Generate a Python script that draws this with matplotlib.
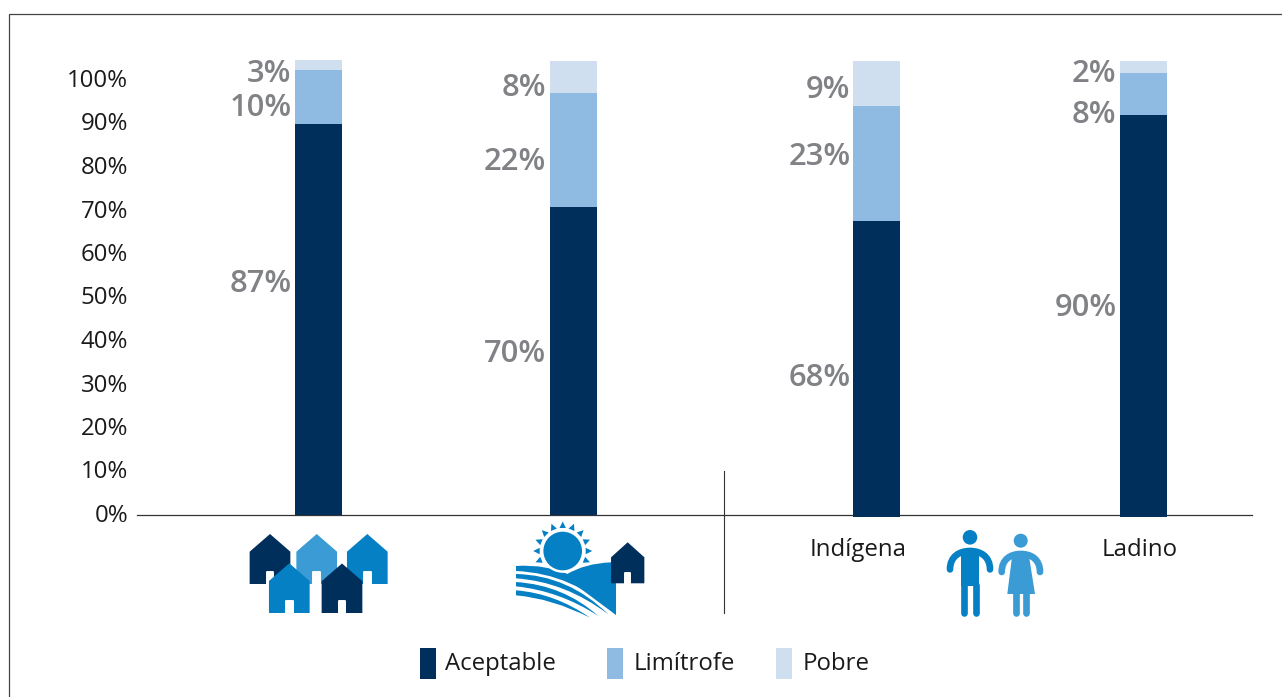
#!/usr/bin/env python3
# -*- coding: utf-8 -*-

import matplotlib
matplotlib.use("Agg")
import matplotlib.pyplot as plt
import numpy as np
from matplotlib.patches import Circle, PathPatch, Polygon, Rectangle
from matplotlib.path import Path
from matplotlib.transforms import ScaledTranslation

plt.rcParams["font.family"] = ["Open Sans", "DejaVu Sans"]

# drawn heights on the axis scale (the bars overshoot 100% in the original)
aceptable = [89.9, 70.8, 68.0, 92.4]
limitrofe = [12.4, 26.2, 26.4, 9.7]
pobre = [2.3, 7.4, 10.5, 2.8]
# printed labels
aceptable_txt = ["87%", "70%", "68%", "90%"]
limitrofe_txt = ["10%", "22%", "23%", "8%"]
pobre_txt = ["3%", "8%", "9%", "2%"]
y_ticks = [0, 10, 20, 30, 40, 50, 60, 70, 80, 90, 100]
y_labels = ["0%", "10%", "20%", "30%", "40%", "50%", "60%", "70%", "80%", "90%", "100%"]
legend_names = ["Aceptable", "Limítrofe", "Pobre"]

DARK = "#002F5C"
MID = "#8FBBE2"
LIGHT = "#CFDFF0"
GREY = "#808285"
TEXT = "#1A1A1A"
BLUE = "#0580C4"
SKY = "#3A9BD5"

W, H = 1282, 697
AX_L, AX_R, AX_Y, AX_TOP = 137, 1252, 515, 50
PX_PER_PCT = 4.35

# layout, in pixels of the figure
bar_x = [318.5, 573.5, 876.5, 1143.5]
bar_w = 47
bar_start = [0, 0, -0.46, -0.46]
label_right = [291.5, 546, 850.5, 1116.5]
aceptable_y = [284.5, 354.5, 377.5, 308.5]
limitrofe_y = [108.5, 161.5, 157, 115]
pobre_y = [74.5, 88.5, 90.5, 73.5]
legend_box_x = [420, 607, 776]
legend_text_x = [445, 634, 803]

fig = plt.figure(figsize=(W / 100, H / 100), dpi=100, facecolor="white")

# bars
ax = fig.add_axes([AX_L / W, 1 - AX_Y / H, (AX_R - AX_L) / W, (AX_Y - AX_TOP) / H])
ax.set_xlim(AX_L, AX_R)
ax.set_ylim(0, (AX_Y - AX_TOP) / PX_PER_PCT)
ax.patch.set_visible(False)

start = np.array(bar_start)
ac = np.array(aceptable)
li = np.array(limitrofe)
po = np.array(pobre)
ax.bar(bar_x, ac, bar_w, bottom=start, color=DARK, clip_on=False, zorder=3)
ax.bar(bar_x, li, bar_w, bottom=start + ac, color=MID, clip_on=False, zorder=3)
ax.bar(bar_x, po, bar_w, bottom=start + ac + li, color=LIGHT, clip_on=False, zorder=3)

ax.set_yticks(y_ticks)
ax.set_yticklabels(y_labels, fontsize=17.3, color=TEXT)
ax.set_xticks([])
ax.tick_params(axis="y", length=0, pad=6.4)
up = ScaledTranslation(0, 2 / 100, fig.dpi_scale_trans)
for lab in ax.get_yticklabels():
    lab.set_transform(lab.get_transform() + up)
for side in ["top", "right", "left"]:
    ax.spines[side].set_visible(False)
ax.spines["bottom"].set_color("#333333")
ax.spines["bottom"].set_linewidth(0.9)

# everything else sits on a pixel overlay
ov = fig.add_axes([0, 0, 1, 1])
ov.set_xlim(0, W)
ov.set_ylim(H, 0)
ov.axis("off")
ov.patch.set_visible(False)

ov.plot([9, 9, W], [H, 14, 14], color="#444444", lw=0.9, solid_joinstyle="miter")
ov.plot([724, 724], [471, 613], color="#333333", lw=0.8)

for i in range(4):
    for txts, ys in [(aceptable_txt, aceptable_y), (limitrofe_txt, limitrofe_y), (pobre_txt, pobre_y)]:
        ov.text(label_right[i], ys[i], txts[i], ha="right", va="center",
                fontsize=22.3, fontweight="semibold", color=GREY)

ov.text(858, 550, "Indígena", ha="center", va="center", fontsize=17.3, color=TEXT)
ov.text(1140, 550, "Ladino", ha="center", va="center", fontsize=17.3, color=TEXT)

for name, bx, tx, col in zip(legend_names, legend_box_x, legend_text_x, [DARK, MID, LIGHT]):
    ov.add_patch(Rectangle((bx, 648), 15.5, 31, color=col, lw=0))
    ov.text(tx, 664, name, ha="left", va="center", fontsize=17.3, color=TEXT)


def house(cx, top, bottom, width, color, z, shoulder=17.7, door_w=8.7, door_top=570.7):
    hw = width / 2
    ov.add_patch(Polygon([(cx, top), (cx + hw, top + shoulder), (cx + hw, bottom),
                          (cx - hw, bottom), (cx - hw, top + shoulder)],
                         closed=True, color=color, lw=0, zorder=z))
    # slightly rounded door
    ov.add_patch(Rectangle((cx - door_w / 2 + 1, door_top + 1), door_w - 2, bottom - door_top,
                           facecolor="white", edgecolor="white", lw=1.4, joinstyle="round", zorder=z))


# town icon
house(270, 534, 584, 40.7, DARK, 4)
house(316.7, 534, 584, 40.7, SKY, 4)
house(367.3, 534, 584, 40.7, BLUE, 4)
house(289.3, 563.3, 613, 40.7, BLUE, 5, door_top=599.5)
house(342, 563.5, 613, 40.7, DARK, 5, door_top=599.5)


# countryside icon, curves traced in crop coordinates (3x, origin 510,515)
def shape(points, codes, color, z=4):
    verts = [(510 + a / 3, 515 + b / 3) for a, b in points]
    ov.add_patch(PathPatch(Path(verts, codes), facecolor=color, edgecolor="none", lw=0, zorder=z))


def band(left_top, top_ctrl, tip, low_ctrl, left_low):
    shape([left_top, top_ctrl, tip, low_ctrl, left_low, left_top],
          [Path.MOVETO, Path.CURVE3, Path.CURVE3, Path.CURVE3, Path.CURVE3, Path.LINETO], BLUE)


band((18, 153), (205, 140), (318, 300), (190, 175), (18, 168))
band((18, 177), (175, 180), (295, 298), (165, 200), (18, 190))
band((18, 201), (160, 210), (265, 303), (150, 228), (18, 214))
band((18, 226), (135, 235), (240, 308), (125, 250), (18, 241))
shape([(170, 178), (225, 145), (303, 142), (318, 142), (318, 300), (170, 190), (170, 178)],
      [Path.MOVETO, Path.CURVE3, Path.CURVE3, Path.LINETO, Path.LINETO, Path.LINETO, Path.LINETO], BLUE)

sun_x, sun_y = 562.7, 551
ov.add_patch(Circle((sun_x, sun_y), 21.8, color="white", lw=0, zorder=5))
ov.add_patch(Circle((sun_x, sun_y), 19.3, color=BLUE, lw=0, zorder=5))
for ang in np.arange(-22.5, 203, 22.5):
    a = np.deg2rad(ang)
    ux, uy = np.cos(a), -np.sin(a)
    px, py = -uy, ux
    ov.add_patch(Polygon([(sun_x + 29.5 * ux, sun_y + 29.5 * uy),
                          (sun_x + 23 * ux + 3.2 * px, sun_y + 23 * uy + 3.2 * py),
                          (sun_x + 23 * ux - 3.2 * px, sun_y + 23 * uy - 3.2 * py)],
                         closed=True, color=BLUE, lw=0, zorder=5))
house(627.7, 542.3, 583.3, 33.3, DARK, 6, shoulder=15, door_w=7.3, door_top=572.3)


# people
def limb(xs, ys, color, z=4):
    ov.plot(xs, ys, color=color, lw=4.8, solid_capstyle="round", zorder=z)


def arms(x0, x1, y_end, y_top, color):
    cx = (x0 + x1) / 2
    verts = [(x0, y_end), (x0, y_top + 5), (cx - 10, y_top), (cx, y_top),
             (cx + 10, y_top), (x1, y_top + 5), (x1, y_end)]
    codes = [Path.MOVETO] + [Path.CURVE4] * 6
    ov.add_patch(PathPatch(Path(verts, codes), facecolor="none", edgecolor=color, lw=4.8,
                           capstyle="round", zorder=4))


ov.add_patch(Circle((970, 537.3), 7.3, color=BLUE, lw=0))
arms(950, 990, 569.4, 551, BLUE)
ov.add_patch(Rectangle((961, 550), 18, 36, color=BLUE, lw=0, zorder=4))
limb([964.3, 964.3], [585, 612.7], BLUE)
limb([975.7, 975.7], [585, 612.7], BLUE)

ov.add_patch(Circle((1020.7, 540.7), 7, color=SKY, lw=0))
arms(1001.7, 1040, 572, 554, SKY)
ov.add_patch(Polygon([(1012.5, 553), (1028.5, 553), (1035, 594), (1007.3, 594)],
                     closed=True, color=SKY, lw=0, zorder=4))
limb([1015.7, 1015.7], [593, 613.4], SKY)
limb([1026, 1026], [593, 613.4], SKY)

fig.savefig("out.png", dpi=100)
